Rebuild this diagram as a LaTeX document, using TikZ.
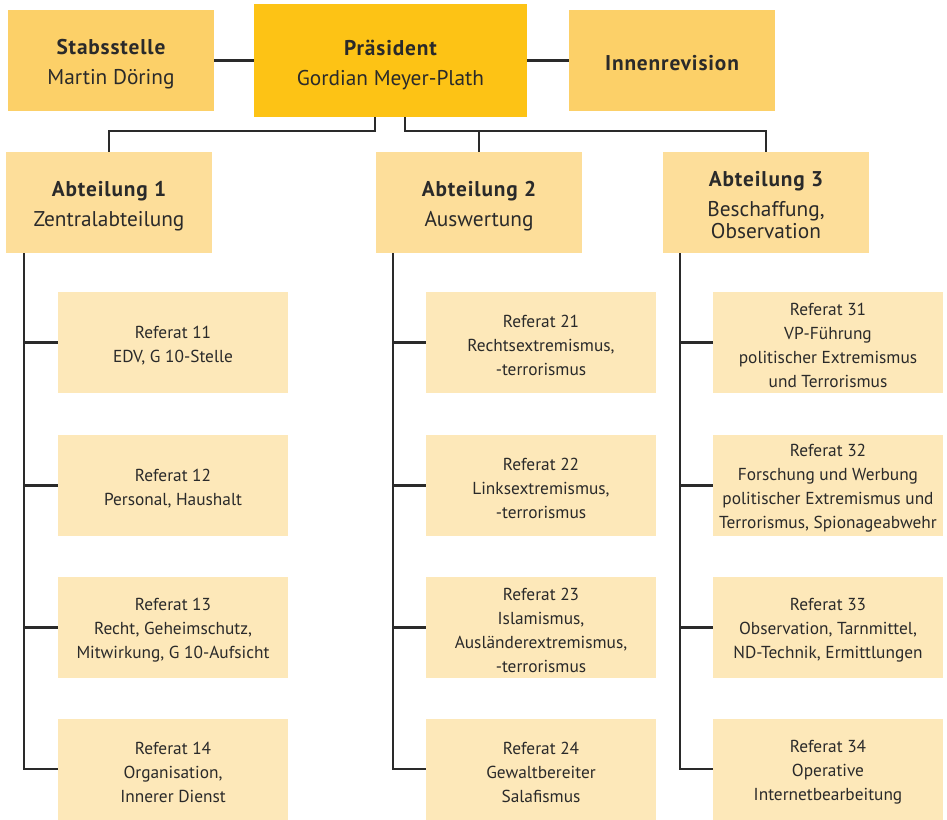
\documentclass[tikz,border=0pt]{standalone}
\usepackage{fontspec}
\setmainfont{PT Sans}
\newfontfamily\hdbold{PT Sans}[LetterSpace=4.0]
\definecolor{presc}{HTML}{FDC315}
\definecolor{topc}{HTML}{FCD068}
\definecolor{abtc}{HTML}{FDDE9A}
\definecolor{refc}{HTML}{FDE8B9}
\definecolor{txt}{HTML}{2A2A2A}
\definecolor{linec}{HTML}{2A2A2A}
\newcommand\hd[1]{{\hdbold\bfseries #1}}
\tikzset{
  basebox/.style={rectangle, inner sep=0pt, align=center, text=txt},
  hdtext/.style={basebox, yshift=-3pt, font=\fontsize{16pt}{22.5pt}\selectfont},
  reftext/.style={basebox, yshift=-2.2pt, font=\fontsize{13pt}{18pt}\selectfont},
  topbox/.style={basebox, fill=topc, minimum width=154.5pt, minimum height=75.75pt},
  presbox/.style={basebox, fill=presc, minimum width=204.75pt, minimum height=84.75pt},
  abtbox/.style={basebox, fill=abtc, minimum width=154.5pt, minimum height=75.75pt},
  refbox/.style={basebox, fill=refc, minimum width=172.5pt, minimum height=75.75pt},
  conn/.style={draw=linec, line width=2.1pt},
}
\begin{document}
\begin{tikzpicture}[x=0.75pt,y=-0.75pt]
\useasboundingbox (0,0) rectangle (947,819);
% top row
\node[topbox, label={[hdtext]center:{\hd{Stabsstelle}\\Martin Döring}}] (stab) at (111,60.5) {};
\node[presbox, label={[hdtext]center:{\hd{Präsident}\\Gordian Meyer-Plath}}] (pres) at (390.5,60.5) {};
\node[topbox, label={[hdtext, yshift=1pt]center:{\hd{Innenrevision}}}] (innen) at (672,60.5) {};
% departments
\node[abtbox, label={[hdtext]center:{\hd{Abteilung 1}\\Zentralabteilung}}] (abt1) at (109,202.5) {};
\node[abtbox, label={[hdtext]center:{\hd{Abteilung 2}\\Auswertung}}] (abt2) at (479,202.5) {};
\node[abtbox, label={[hdtext, yshift=1pt]center:{\hd{Abteilung 3}\\Beschaffung,\\[-5.5pt]Observation}}] (abt3) at (766,202.5) {};
% referate col 1
\node[refbox, label={[reftext]center:{Referat 11\\EDV, G 10-Stelle}}] (r11) at (173,342.5) {};
\node[refbox, label={[reftext]center:{Referat 12\\Personal, Haushalt}}] (r12) at (173,485.5) {};
\node[refbox, label={[reftext]center:{Referat 13\\Recht, Geheimschutz,\\Mitwirkung, G 10-Aufsicht}}] (r13) at (173,627.5) {};
\node[refbox, label={[reftext]center:{Referat 14\\Organisation,\\Innerer Dienst}}] (r14) at (173,769) {};
% col 2
\node[refbox, label={[reftext]center:{Referat 21\\Rechtsextremismus,\\-terrorismus}}] (r21) at (541,342.5) {};
\node[refbox, label={[reftext]center:{Referat 22\\Linksextremismus,\\-terrorismus}}] (r22) at (541,485.5) {};
\node[refbox, label={[reftext]center:{Referat 23\\Islamismus,\\Ausländerextremismus,\\-terrorismus}}] (r23) at (541,627.5) {};
\node[refbox, label={[reftext]center:{Referat 24\\Gewaltbereiter\\Salafismus}}] (r24) at (541,769) {};
% col 3
\node[refbox, label={[reftext]center:{Referat 31\\VP-Führung\\politischer Extremismus\\und Terrorismus}}] (r31) at (828,342.5) {};
\node[refbox, label={[reftext]center:{Referat 32\\Forschung und Werbung\\politischer Extremismus und\\Terrorismus, Spionageabwehr}}] (r32) at (828,485.5) {};
\node[refbox, label={[reftext]center:{Referat 33\\Observation, Tarnmittel,\\ND-Technik, Ermittlungen}}] (r33) at (828,627.5) {};
\node[refbox, label={[reftext]center:{Referat 34\\Operative\\Internetbearbeitung}}] (r34) at (828,769) {};
% connectors top
\draw[conn] (stab.east) -- (pres.west);
\draw[conn] (pres.east) -- (innen.west);
\coordinate (pL) at (375,117);
\coordinate (busL) at (375,131);
\coordinate (pR) at (405,117);
\coordinate (busR) at (405,131);
\draw[conn] (pL) -- (busL) -| (abt1.north);
\draw[conn] (pR) -- (busR) -| (abt3.north);
\draw[conn] (busR -| abt2.north) -- (abt2.north);
% trunks
\coordinate (t1) at (24,253);
\coordinate (t2) at (393,253);
\coordinate (t3) at (680,253);
\draw[conn] (t1) |- (r14.west);
\draw[conn] (t1 |- r11.west) -- (r11.west);
\draw[conn] (t1 |- r12.west) -- (r12.west);
\draw[conn] (t1 |- r13.west) -- (r13.west);
\draw[conn] (t2) |- (r24.west);
\draw[conn] (t2 |- r21.west) -- (r21.west);
\draw[conn] (t2 |- r22.west) -- (r22.west);
\draw[conn] (t2 |- r23.west) -- (r23.west);
\draw[conn] (t3) |- (r34.west);
\draw[conn] (t3 |- r31.west) -- (r31.west);
\draw[conn] (t3 |- r32.west) -- (r32.west);
\draw[conn] (t3 |- r33.west) -- (r33.west);
\end{tikzpicture}
\end{document}
